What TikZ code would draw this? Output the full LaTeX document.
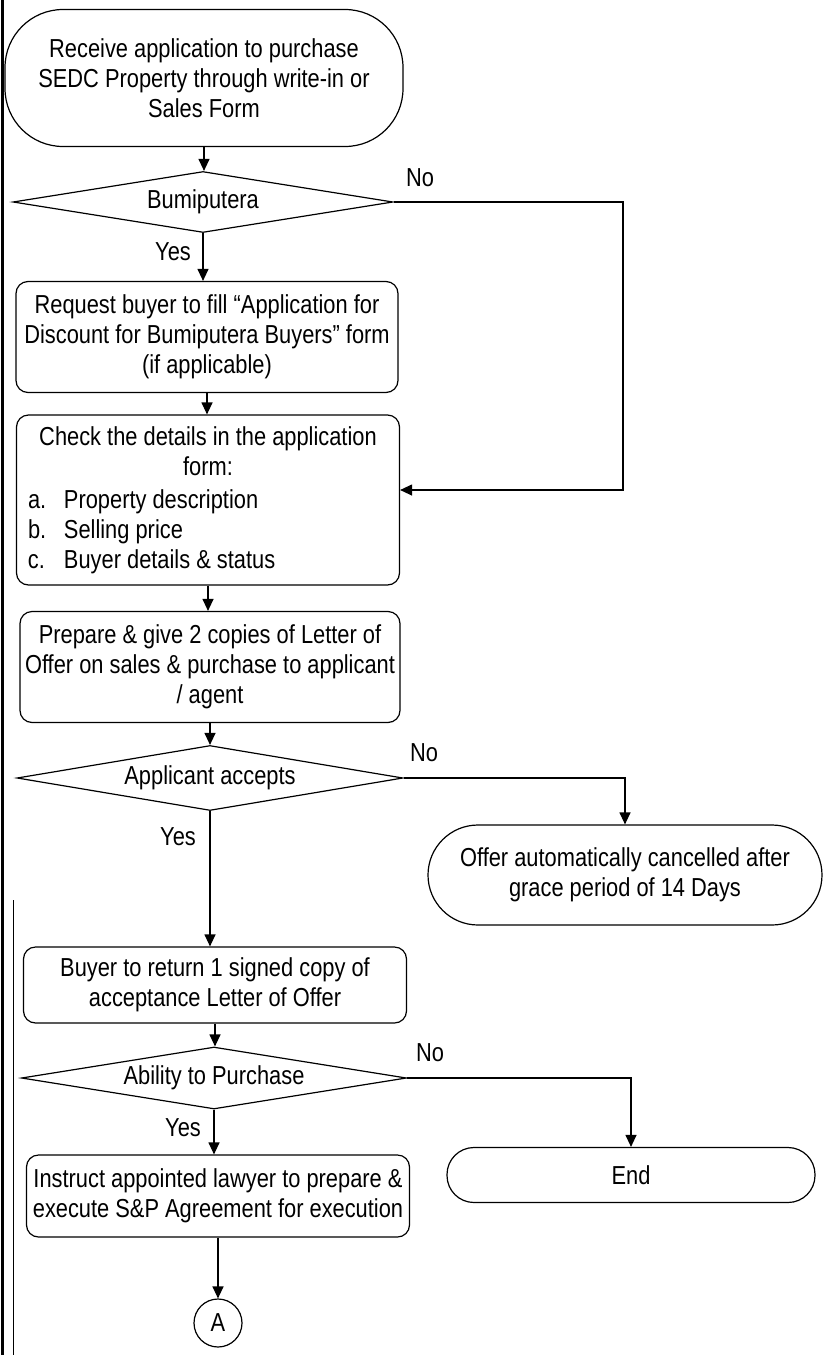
\documentclass[tikz,border=0pt]{standalone}
\usepackage{fontspec}
\setmainfont{Liberation Sans}[FakeStretch=0.84]
\usetikzlibrary{arrows.meta,shapes}
\tikzstyle{process}=[draw,rectangle,rounded corners=12pt,align=center,inner sep=0pt]
\tikzstyle{terminal}=[draw,rectangle,align=center,inner sep=0pt]
\tikzstyle{decision}=[draw,diamond,aspect=6,inner sep=0pt]
\tikzstyle{connector}=[draw,circle,inner sep=0pt,minimum size=48pt]
\tikzstyle{lbl}=[inner sep=0pt]
\tikzstyle{edge}=[draw,line width=1.2pt,-{Triangle[length=12pt,width=11pt]}]
\newcommand{\listline}[2]{\makebox[360pt][l]{\makebox[36pt][l]{#1}#2}}

\begin{document}
\begin{tikzpicture}[x=1pt,y=-1pt,line width=1.2pt,font=\fontsize{26}{30}\selectfont]
    \useasboundingbox (0,0) rectangle (824,1355);
    % edge of the scanned page
    \draw[line width=3pt] (2,0) -- (2,1355);
    \draw[line width=0.8pt] (13,900) -- (13,1355);
    % First we draw the boxes of the main column
    \node[terminal,rounded corners=58pt,minimum width=398pt,minimum height=137pt] (start) at (204,78)
        {Receive application to purchase\\SEDC Property through write-in or\\Sales Form};
    \node[decision,minimum width=380pt,minimum height=61pt] (dec1) at (203,202) {Bumiputera};
    \node[process,minimum width=382pt,minimum height=111pt] (req) at (207,337)
        {Request buyer to fill ``Application for\\Discount for Bumiputera Buyers'' form\\(if applicable)};
    \node[process,minimum width=383pt,minimum height=170pt] (check) at (208,500)
        {Check the details in the application\\form:\\[3pt]
         \listline{a.}{Property description}\\
         \listline{b.}{Selling price}\\
         \listline{c.}{Buyer details \& status}};
    \node[process,minimum width=380pt,minimum height=111pt] (prep) at (210,667)
        {Prepare \& give 2 copies of Letter of\\Offer on sales \& purchase to applicant\\/ agent};
    \node[decision,minimum width=386pt,minimum height=65pt] (dec2) at (210,778) {Applicant accepts};
    \node[process,minimum width=383pt,minimum height=76pt] (ret) at (215,985)
        {Buyer to return 1 signed copy of\\acceptance Letter of Offer};
    \node[decision,minimum width=385pt,minimum height=62pt] (dec3) at (214,1078) {Ability to Purchase};
    \node[process,minimum width=383pt,minimum height=82pt] (instr) at (218,1196)
        {Instruct appointed lawyer to prepare \&\\execute S\&P Agreement for execution};
    \node[connector] (conA) at (218,1323) {A};
    % the ends on the right
    \node[terminal,rounded corners=50pt,minimum width=394pt,minimum height=100pt] (cancel) at (625,875)
        {Offer automatically cancelled after\\grace period of 14 Days};
    \node[terminal,rounded corners=27pt,minimum width=368pt,minimum height=55pt] (endn) at (631,1175) {End};
    % Yes / No labels
    \foreach \pos/\name/\txt in {{(420,178)/no1/No}, {(173,252)/yes1/Yes}, {(424,753)/no2/No},
        {(178,837)/yes2/Yes}, {(430,1053)/no3/No}, {(183,1128)/yes3/Yes}}
        \node[lbl] (\name) at \pos {\txt};
    % Connect boxes with arrows
    \foreach \source/\dest in {start/dec1, dec1/req, req/check, check/prep, prep/dec2,
        dec2/ret, ret/dec3, dec3/instr, instr/conA}
        \path[edge] (\source.south) -- (\source.south |- \dest.north);
    \coordinate (bend1) at (623,490);
    \path[edge] (dec1.east) -| (bend1) -- (check.east |- bend1);
    \path[edge] (dec2.east) -| (cancel.north);
    \path[edge] (dec3.east) -| (endn.north);
\end{tikzpicture}
\end{document}
